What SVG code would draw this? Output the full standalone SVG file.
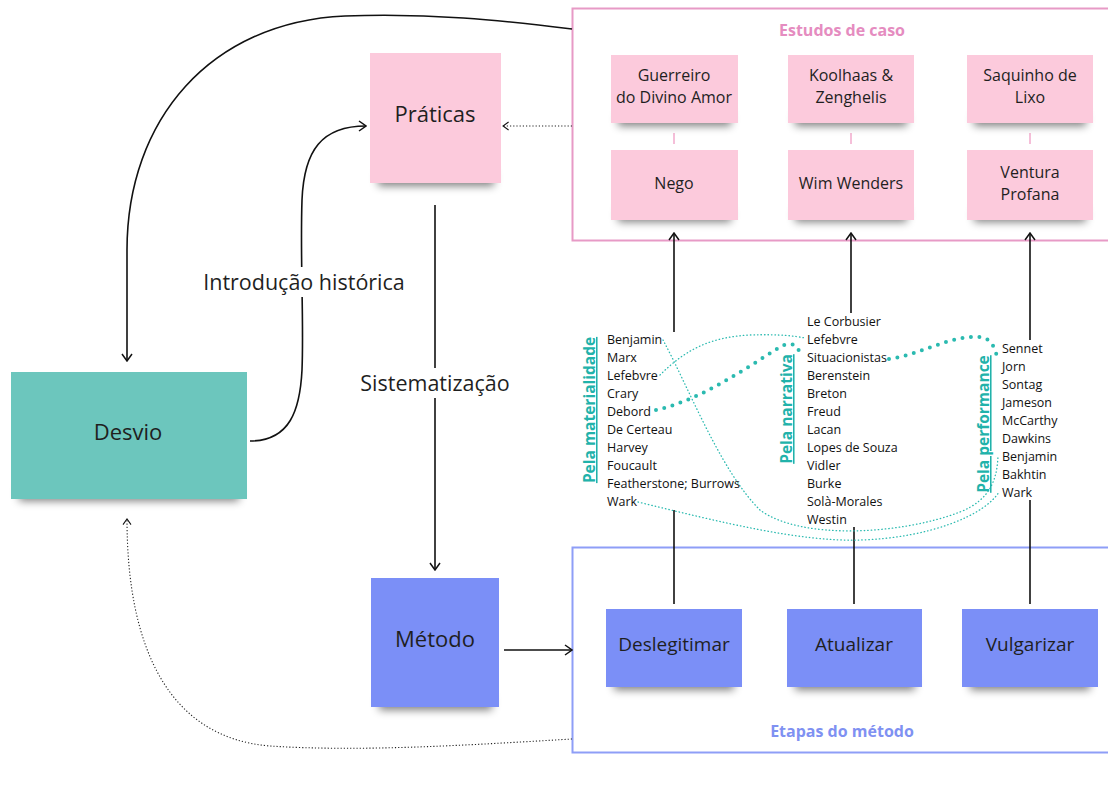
<svg xmlns="http://www.w3.org/2000/svg" width="1108" height="800" viewBox="0 0 1108 800">
<defs>
<style>
.t{font-family:"Open Sans","Noto Sans","Liberation Sans",sans-serif;fill:#1f1f1f;text-anchor:middle}
.n15{font-size:16px}
.n18{font-size:19px}
.n20{font-size:22px}
.n21{font-size:21.5px}
.lst{font-family:"Open Sans","Noto Sans","Liberation Sans",sans-serif;font-size:12.5px;fill:#111}
.lbl{font-family:"Open Sans","Noto Sans","Liberation Sans",sans-serif;font-size:15.5px;font-weight:700;fill:#21b2aa;text-anchor:middle;text-decoration:underline}
.ttl{font-family:"Open Sans","Noto Sans","Liberation Sans",sans-serif;font-size:16px;font-weight:700;text-anchor:middle}
.pink{fill:#fccadc}
.teal{fill:#6cc6bd}
.blue{fill:#7b8ff7}
.shd{fill:#000;opacity:.5;filter:url(#blur)}
.ln{fill:none;stroke:#111;stroke-width:1.6}
.dot{fill:none;stroke:#222;stroke-width:1.1;stroke-dasharray:1.2 2}
.tdot{fill:none;stroke:#2bbab0;stroke-width:4;stroke-linecap:round;stroke-dasharray:0 8.5}
.tthin{fill:none;stroke:#2bbab0;stroke-width:1.3;stroke-linecap:round;stroke-dasharray:0.5 3}
</style>
<filter id="blur" x="-20%" y="-100%" width="140%" height="300%"><feGaussianBlur stdDeviation="4"/></filter>
<marker id="ah" viewBox="0 0 10 12" refX="9" refY="6" markerWidth="10" markerHeight="12" markerUnits="userSpaceOnUse" orient="auto"><path d="M2,1 L9,6 L2,11" fill="none" stroke="#111" stroke-width="1.5"/></marker>
<marker id="ahs" viewBox="0 0 10 12" refX="9" refY="6" markerWidth="8" markerHeight="10" markerUnits="userSpaceOnUse" orient="auto"><path d="M2,1 L9,6 L2,11" fill="none" stroke="#111" stroke-width="1.3"/></marker>
</defs>
<rect width="1108" height="800" fill="#fff"/>

<g id="frame-estudos">
<rect x="572.5" y="8.5" width="560" height="232" fill="none" stroke="#e79ac6" stroke-width="2"/>
<text class="ttl" x="842" y="35.5" fill="#e58cc0">Estudos de caso</text>
</g>
<g id="frame-etapas">
<rect x="572.5" y="547.5" width="560" height="205" fill="none" stroke="#8e9ef7" stroke-width="2"/>
<text class="ttl" x="842" y="737" fill="#7f91f2">Etapas do método</text>
</g>

<g id="connectors">
<path class="ln" d="M572,29 C500,20 430,13 345,16 C210,22 127,120 127,250 L127,361" marker-end="url(#ah)"/>
<path class="ln" d="M250,441 C290,441 300,410 302,370 C304,320 300,260 302,200 C304,150 322,126 366,126" marker-end="url(#ah)"/>
<path class="ln" d="M435,205 L435,570" marker-end="url(#ah)"/>
<path class="ln" d="M504,650 L572,650" marker-end="url(#ah)"/>
<path class="dot" d="M572,126 L503,126" marker-end="url(#ahs)"/>
<path class="dot" d="M572,739 C470,745 360,752 270,746 C170,738 127,650 127,519" marker-end="url(#ahs)"/>
<path class="ln" d="M674,332 L674,233" marker-end="url(#ah)"/>
<path class="ln" d="M851,313 L851,233" marker-end="url(#ah)"/>
<path class="ln" d="M1030,340 L1030,233" marker-end="url(#ah)"/>
<path class="ln" d="M674,510 L674,604"/>
<path class="ln" d="M854,527 L854,604"/>
<path class="ln" d="M1030,500 L1030,604"/>
<path d="M674,133 L674,144 M851,133 L851,144 M1030,133 L1030,144" stroke="#f2aacd" stroke-width="1.5"/>
<path class="tdot" d="M656,410 C700,400 740,372 780,347 C792,340 798,346 800,354"/>
<path class="tdot" d="M889,359 C920,355 950,335 980,337 C992,338 996,350 998,362"/>
<path class="tthin" d="M660,375 C685,350 710,337 750,335 C780,334 795,336 805,338"/>
<path class="tthin" d="M663,340 C690,390 720,470 760,510 C800,540 900,535 960,512 C990,500 997,480 998,456"/>
<path class="tthin" d="M638,502 C720,522 800,542 860,540 C930,538 985,515 999,492"/>
</g>

<g id="label-introducao">
<rect x="200" y="267" width="208" height="30" fill="#fff"/>
<text class="t n21" x="304" y="289.5">Introdução histórica</text>
</g>
<g id="label-sistematizacao">
<rect x="357" y="368" width="156" height="30" fill="#fff"/>
<text class="t n21" x="435" y="390.5">Sistematização</text>
</g>

<g id="praticas">
<rect class="shd" x="378" y="170" width="116" height="16"/>
<rect class="pink" x="370" y="53" width="131" height="130"/>
<text class="t n20" x="435" y="121.5">Práticas</text>
</g>
<g id="desvio">
<rect class="shd" x="19" y="485" width="220" height="16"/>
<rect class="teal" x="11" y="372" width="236" height="127"/>
<text class="t n20" x="128" y="439.5">Desvio</text>
</g>
<g id="metodo">
<rect class="shd" x="379" y="694" width="113" height="16"/>
<rect class="blue" x="371" y="578" width="128" height="129"/>
<text class="t n20" x="435" y="646.5">Método</text>
</g>

<g id="guerreiro">
<rect class="shd" x="618" y="112" width="113" height="14"/>
<rect class="pink" x="611" y="55" width="127" height="68"/>
<text class="t n15" x="674" y="81">Guerreiro</text>
<text class="t n15" x="674" y="103">do Divino Amor</text>
</g>
<g id="koolhaas">
<rect class="shd" x="795" y="112" width="112" height="14"/>
<rect class="pink" x="788" y="55" width="126" height="68"/>
<text class="t n15" x="851" y="81">Koolhaas &amp;</text>
<text class="t n15" x="851" y="103">Zenghelis</text>
</g>
<g id="saquinho">
<rect class="shd" x="974" y="112" width="112" height="14"/>
<rect class="pink" x="967" y="55" width="126" height="68"/>
<text class="t n15" x="1030" y="81">Saquinho de</text>
<text class="t n15" x="1030" y="103">Lixo</text>
</g>
<g id="nego">
<rect class="shd" x="618" y="208" width="113" height="14"/>
<rect class="pink" x="611" y="150" width="127" height="70"/>
<text class="t n15" x="674" y="189">Nego</text>
</g>
<g id="wim-wenders">
<rect class="shd" x="795" y="208" width="112" height="14"/>
<rect class="pink" x="788" y="150" width="126" height="70"/>
<text class="t n15" x="851" y="189">Wim Wenders</text>
</g>
<g id="ventura">
<rect class="shd" x="974" y="208" width="112" height="14"/>
<rect class="pink" x="967" y="150" width="126" height="70"/>
<text class="t n15" x="1030" y="178">Ventura</text>
<text class="t n15" x="1030" y="200">Profana</text>
</g>

<g id="deslegitimar">
<rect class="shd" x="614" y="675" width="120" height="15"/>
<rect class="blue" x="606" y="609" width="136" height="78"/>
<text class="t n18" x="674" y="651">Deslegitimar</text>
</g>
<g id="atualizar">
<rect class="shd" x="795" y="675" width="120" height="15"/>
<rect class="blue" x="787" y="609" width="135" height="78"/>
<text class="t n18" x="854" y="651">Atualizar</text>
</g>
<g id="vulgarizar">
<rect class="shd" x="970" y="675" width="120" height="15"/>
<rect class="blue" x="962" y="609" width="136" height="78"/>
<text class="t n18" x="1030" y="651">Vulgarizar</text>
</g>

<g id="lista-materialidade">
<text class="lbl" x="595" y="410" transform="rotate(-90 595 410)">Pela materialidade</text>
<text class="lst" x="607" y="343.5">Benjamin</text>
<text class="lst" x="607" y="361.5">Marx</text>
<text class="lst" x="607" y="379.5">Lefebvre</text>
<text class="lst" x="607" y="397.5">Crary</text>
<text class="lst" x="607" y="415.5">Debord</text>
<text class="lst" x="607" y="433.5">De Certeau</text>
<text class="lst" x="607" y="451.5">Harvey</text>
<text class="lst" x="607" y="469.5">Foucault</text>
<text class="lst" x="607" y="487.5">Featherstone; Burrows</text>
<text class="lst" x="607" y="505.5">Wark</text>
</g>
<g id="lista-narrativa">
<text class="lbl" x="792" y="409" transform="rotate(-90 792 409)">Pela narrativa</text>
<text class="lst" x="807" y="325.5">Le Corbusier</text>
<text class="lst" x="807" y="343.5">Lefebvre</text>
<text class="lst" x="807" y="361.5">Situacionistas</text>
<text class="lst" x="807" y="379.5">Berenstein</text>
<text class="lst" x="807" y="397.5">Breton</text>
<text class="lst" x="807" y="415.5">Freud</text>
<text class="lst" x="807" y="433.5">Lacan</text>
<text class="lst" x="807" y="451.5">Lopes de Souza</text>
<text class="lst" x="807" y="469.5">Vidler</text>
<text class="lst" x="807" y="487.5">Burke</text>
<text class="lst" x="807" y="505.5">Solà-Morales</text>
<text class="lst" x="807" y="523.5">Westin</text>
</g>
<g id="lista-performance">
<text class="lbl" x="989" y="424" transform="rotate(-90 989 424)">Pela performance</text>
<text class="lst" x="1002" y="352.5">Sennet</text>
<text class="lst" x="1002" y="370.5">Jorn</text>
<text class="lst" x="1002" y="388.5">Sontag</text>
<text class="lst" x="1002" y="406.5">Jameson</text>
<text class="lst" x="1002" y="424.5">McCarthy</text>
<text class="lst" x="1002" y="442.5">Dawkins</text>
<text class="lst" x="1002" y="460.5">Benjamin</text>
<text class="lst" x="1002" y="478.5">Bakhtin</text>
<text class="lst" x="1002" y="496.5">Wark</text>
</g>
</svg>
